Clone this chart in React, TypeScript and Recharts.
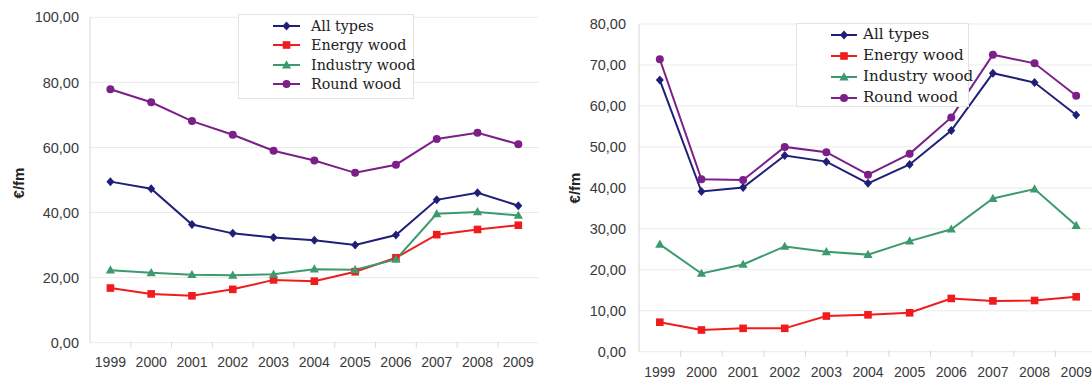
import React from 'react';
import { LineChart, Line, XAxis, YAxis, CartesianGrid, Legend } from 'recharts';

// Years on the category axis
const YEARS = [1999, 2000, 2001, 2002, 2003, 2004, 2005, 2006, 2007, 2008, 2009];

// Left panel, €/fm
const allTypesLeft = [49.5, 47.3, 36.3, 33.6, 32.3, 31.5, 30.0, 33.1, 43.9, 46.1, 42.1];
const energyLeft = [16.8, 15.0, 14.4, 16.4, 19.3, 18.9, 21.8, 26.1, 33.2, 34.8, 36.1];
const industryLeft = [22.3, 21.5, 20.9, 20.7, 21.0, 22.6, 22.4, 25.6, 39.6, 40.2, 39.1];
const roundLeft = [77.9, 73.9, 68.1, 63.9, 59.0, 56.0, 52.2, 54.7, 62.6, 64.5, 61.0];

// Right panel, €/fm
const allTypesRight = [66.3, 39.1, 40.1, 47.9, 46.4, 41.1, 45.7, 54.0, 68.0, 65.7, 57.8];
const energyRight = [7.2, 5.3, 5.7, 5.7, 8.7, 9.0, 9.5, 13.0, 12.4, 12.5, 13.4];
const industryRight = [26.2, 19.1, 21.3, 25.7, 24.4, 23.7, 27.0, 29.9, 37.4, 39.7, 30.8];
const roundRight = [71.4, 42.1, 41.9, 50.0, 48.7, 43.2, 48.3, 57.2, 72.5, 70.4, 62.5];

const Y_TICKS_LEFT = [0, 20, 40, 60, 80, 100];
const Y_TICKS_RIGHT = [0, 10, 20, 30, 40, 50, 60, 70, 80];
const UNIT = '€/fm';

type Shape = 'diamond' | 'square' | 'triangle' | 'circle';

const SERIES: { key: string; name: string; color: string; shape: Shape }[] = [
  { key: 'all', name: 'All types', color: '#1f1f78', shape: 'diamond' },
  { key: 'energy', name: 'Energy wood', color: '#f01c1c', shape: 'square' },
  { key: 'industry', name: 'Industry wood', color: '#3d9a6e', shape: 'triangle' },
  { key: 'round', name: 'Round wood', color: '#7c1f88', shape: 'circle' },
];

const buildRows = (all: number[], energy: number[], industry: number[], round: number[]) =>
  YEARS.map((year, i) => ({ year, all: all[i], energy: energy[i], industry: industry[i], round: round[i] }));

const leftRows = buildRows(allTypesLeft, energyLeft, industryLeft, roundLeft);
const rightRows = buildRows(allTypesRight, energyRight, industryRight, roundRight);

// labels on the years, small marks on the boundaries between them
const X_TICKS = [...YEARS, ...YEARS.slice(1).map((y) => y - 0.5)].sort((a, b) => a - b);

const SANS = '"Liberation Sans", Arial, sans-serif';
const SERIF = '"DejaVu Serif", Cambria, serif';

const fmt = (v: number) => v.toFixed(2).replace('.', ',');

const Marker = ({ cx, cy, shape, color }: { cx?: number; cy?: number; shape: Shape; color: string }) => {
  if (cx == null || cy == null) return null;
  switch (shape) {
    case 'diamond':
      return <polygon points={`${cx},${cy - 4.5} ${cx + 4},${cy} ${cx},${cy + 4.5} ${cx - 4},${cy}`} fill={color} />;
    case 'square':
      return <rect x={cx - 3.8} y={cy - 3.8} width={7.6} height={7.6} fill={color} />;
    case 'triangle':
      return <polygon points={`${cx},${cy - 4.8} ${cx + 4.6},${cy + 3.4} ${cx - 4.6},${cy + 3.4}`} fill={color} />;
    default:
      return <circle cx={cx} cy={cy} r={4} fill={color} />;
  }
};

const XTick = (props: any) => {
  const { x, y, payload, labelGap } = props;
  const v = payload.value;
  if (Number.isInteger(v)) {
    return (
      <text x={x} y={y + labelGap} dy="0.355em" textAnchor="middle" fill="#3a3a3a" fontSize={14} fontFamily={SANS}>
        {v}
      </text>
    );
  }
  return <line x1={x} x2={x} y1={y - 1} y2={y + 5} stroke="#dadada" />;
};

const UnitLabel = ({ px, py }: { px: number; py: number }) => (
  <text
    x={px}
    y={py}
    transform={`rotate(-90 ${px} ${py})`}
    textAnchor="middle"
    dominantBaseline="central"
    fontSize={15}
    fontWeight="bold"
    fill="#222"
    fontFamily={SANS}
  >
    {UNIT}
  </text>
);

type LegendLayout = {
  width: number;
  height: number;
  rowHeight: number;
  padTop: number;
  iconLeft: number;
  iconWidth: number;
  gap: number;
  fontSize: number;
};

const LegendBox = ({ layout }: { layout: LegendLayout }) => (
  <div
    style={{
      width: layout.width,
      height: layout.height,
      boxSizing: 'border-box',
      border: '1px solid #e2e2e2',
      background: '#fff',
      paddingTop: layout.padTop,
      overflow: 'visible',
    }}
  >
    {SERIES.map((s) => (
      <div
        key={s.key}
        style={{
          display: 'flex',
          alignItems: 'center',
          height: layout.rowHeight,
          paddingLeft: layout.iconLeft - 1,
          whiteSpace: 'nowrap',
        }}
      >
        <svg width={layout.iconWidth} height={10} style={{ marginRight: layout.gap, overflow: 'visible' }}>
          <line x1={0} x2={layout.iconWidth} y1={5} y2={5} stroke={s.color} strokeWidth={2} />
          <Marker cx={layout.iconWidth / 2} cy={5} shape={s.shape} color={s.color} />
        </svg>
        <span style={{ fontFamily: SERIF, fontSize: layout.fontSize, color: '#222', lineHeight: 1 }}>{s.name}</span>
      </div>
    ))}
  </div>
);

type PanelProps = {
  rows: ReturnType<typeof buildRows>;
  width: number;
  top: number;
  bottom: number;
  right: number;
  axisWidth: number;
  yMax: number;
  yTicks: number[];
  tickGap: number;
  labelGap: number;
  unitAt: { px: number; py: number };
  legendAt: { left: number; top: number };
  legend: LegendLayout;
};

const Panel = (p: PanelProps) => (
  <LineChart width={p.width} height={381} data={p.rows} margin={{ top: p.top, right: p.right, bottom: 0, left: 0 }}>
    <CartesianGrid vertical={false} stroke="#ebebeb" />
    <XAxis
      dataKey="year"
      type="number"
      domain={[YEARS[0] - 0.5, YEARS[YEARS.length - 1] + 0.5]}
      ticks={X_TICKS}
      interval={0}
      height={p.bottom}
      axisLine={false}
      tickLine={false}
      tickSize={0}
      tickMargin={0}
      tick={(t: any) => <XTick {...t} labelGap={p.labelGap} />}
    />
    <YAxis
      width={p.axisWidth}
      domain={[0, p.yMax]}
      ticks={p.yTicks}
      interval={0}
      tickFormatter={fmt}
      axisLine={{ stroke: '#d6d6d6' }}
      tickLine={false}
      tickSize={0}
      tickMargin={p.tickGap}
      tick={{ fill: '#3a3a3a', fontSize: 14.5, fontFamily: SANS }}
      label={<UnitLabel px={p.unitAt.px} py={p.unitAt.py} />}
    />
    <Legend
      layout="vertical"
      align="center"
      verticalAlign="middle"
      wrapperStyle={{ left: p.legendAt.left, top: p.legendAt.top, width: 'auto', height: 'auto' }}
      content={() => <LegendBox layout={p.legend} />}
    />
    {SERIES.map((s) => (
      <Line
        key={s.key}
        dataKey={s.key}
        name={s.name}
        stroke={s.color}
        strokeWidth={2}
        isAnimationActive={false}
        activeDot={false}
        dot={(d: any) => (
          <Marker key={`${s.key}-${d.index}`} cx={d.cx} cy={d.cy} shape={s.shape} color={s.color} />
        )}
      />
    ))}
  </LineChart>
);

export default function App() {
  return (
    <div style={{ position: 'absolute', left: 0, top: 0, width: 1092, height: 381, overflow: 'hidden', background: '#fff' }}>
      <div style={{ position: 'absolute', left: 0, top: 0 }}>
        <Panel
          rows={leftRows}
          width={546}
          top={17.3}
          bottom={38.3}
          right={7.3}
          axisWidth={90}
          yMax={100}
          yTicks={Y_TICKS_LEFT}
          tickGap={11}
          labelGap={19}
          unitAt={{ px: 18, py: 183 }}
          legendAt={{ left: 238, top: 14 }}
          legend={{ width: 176, height: 85, rowHeight: 19.4, padTop: 1.3, iconLeft: 35, iconWidth: 27, gap: 11, fontSize: 14.3 }}
        />
      </div>
      <div style={{ position: 'absolute', left: 546, top: 0 }}>
        <Panel
          rows={rightRows}
          width={560}
          top={24}
          bottom={29.3}
          right={9}
          axisWidth={93}
          yMax={80}
          yTicks={Y_TICKS_RIGHT}
          tickGap={13}
          labelGap={20}
          unitAt={{ px: 28, py: 188 }}
          legendAt={{ left: 250, top: 22.7 }}
          legend={{ width: 173, height: 84, rowHeight: 21, padTop: 0.8, iconLeft: 35, iconWidth: 26, gap: 6, fontSize: 15.1 }}
        />
      </div>
    </div>
  );
}
